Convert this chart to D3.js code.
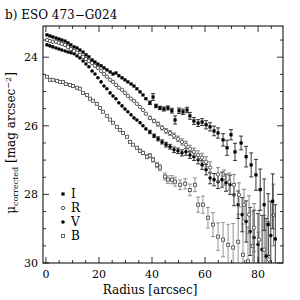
<!DOCTYPE html>
<html>
<head>
<meta charset="utf-8">
<script src="https://cdn.jsdelivr.net/npm/d3@7"></script>
<style>
body{margin:0;background:#fff;}
text{font-family:"DejaVu Serif",serif;fill:#000;}
</style>
</head>
<body>
<script>
var svgWidth = 300;
var svgHeight = 300;

// [radius arcsec, mag, error]
var bandI = [[0.4,23.35,0],[1.5,23.38,0],[2.6,23.41,0],[3.8,23.44,0],[4.9,23.47,0],[6.0,23.50,0],[7.2,23.53,0],[8.3,23.58,0],[9.4,23.64,0],[10.6,23.70,0],[11.7,23.73,0],[12.8,23.79,0],[14.0,23.85,0],[15.1,23.93,0],[16.2,23.99,0],[17.4,24.08,0],[18.5,24.14,0],[19.6,24.20,0],[20.8,24.25,0],[21.9,24.31,0],[23.0,24.37,0],[24.2,24.43,0],[25.3,24.49,0],[26.4,24.46,0],[27.5,24.54,0],[28.7,24.60,0],[29.8,24.66,0],[30.9,24.72,0],[32.1,24.78,0],[33.2,24.84,0],[34.3,24.92,0],[35.5,25.01,0],[36.6,25.10,0],[37.7,25.21,0],[39.2,25.33,0.05],[40.4,25.16,0.1],[41.5,25.42,0.05],[43.0,25.48,0.05],[44.5,25.51,0.06],[46.0,25.48,0.06],[47.5,25.56,0.07],[48.7,25.83,0.12],[50.2,25.56,0.08],[51.7,25.59,0.08],[53.2,25.54,0.08],[54.3,25.71,0.1],[55.8,25.86,0.1],[57.4,25.92,0.1],[58.9,25.89,0.1],[60.4,25.97,0.12],[61.9,26.03,0.12],[63.4,26.15,0.14],[64.9,26.21,0.15],[66.8,26.41,0.18],[68.3,26.64,0.22],[69.8,26.26,0.15],[71.3,26.76,0.25],[73.6,26.50,0.2],[75.5,26.90,0.3],[77.4,27.14,0.35],[79.2,27.43,0.45],[80.8,27.86,0.6],[82.3,28.30,0.75],[83.8,28.88,0.9],[85.5,28.20,0.8],[86.5,29.30,1.0]];

var bandR = [[0.4,23.50,0],[1.5,23.53,0],[2.6,23.55,0],[3.8,23.55,0],[4.9,23.58,0],[6.0,23.61,0],[7.2,23.64,0],[8.3,23.70,0],[9.4,23.76,0],[10.6,23.82,0],[11.7,23.87,0],[12.8,23.93,0],[14.0,23.99,0],[15.1,24.05,0],[16.2,24.11,0],[17.4,24.17,0],[18.5,24.25,0],[19.6,24.31,0],[20.8,24.40,0],[21.9,24.49,0],[23.0,24.57,0],[24.2,24.66,0],[25.3,24.72,0],[26.4,24.81,0],[27.5,24.89,0],[28.7,24.95,0],[29.8,25.04,0],[30.9,25.13,0],[32.1,25.21,0],[33.2,25.27,0],[34.3,25.36,0],[35.5,25.45,0],[36.6,25.54,0],[37.7,25.65,0],[39.2,25.77,0.05],[40.8,25.86,0.05],[42.3,25.95,0.06],[43.8,26.06,0.06],[45.3,26.15,0.07],[46.8,26.21,0.07],[48.3,26.29,0.08],[49.8,26.38,0.08],[51.3,26.47,0.09],[52.8,26.55,0.1],[54.3,26.67,0.1],[55.8,26.76,0.11],[57.4,26.85,0.12],[58.9,26.93,0.13],[60.4,27.05,0.15],[61.9,27.22,0.17],[64.9,27.42,0.2],[67.2,27.51,0.22],[69.1,27.63,0.25],[70.9,27.72,0.3],[72.8,28.01,0.35],[74.7,28.30,0.45],[76.6,28.59,0.55],[78.5,28.97,0.7],[80.4,29.32,0.85],[82.3,29.61,1.0],[84.0,29.90,1.1],[85.8,28.60,0.9]];

var bandV = [[0.4,23.64,0],[1.5,23.67,0],[2.6,23.70,0],[3.8,23.73,0],[4.9,23.76,0],[6.0,23.79,0],[7.2,23.82,0],[8.3,23.85,0],[9.4,23.87,0],[10.6,23.90,0],[11.7,23.96,0],[12.8,24.02,0],[14.0,24.11,0],[15.1,24.20,0],[16.2,24.28,0],[17.4,24.40,0],[18.5,24.49,0],[19.6,24.60,0],[20.8,24.72,0],[21.9,24.84,0],[23.0,24.92,0],[24.2,25.04,0],[25.3,25.13,0],[26.4,25.21,0],[27.5,25.33,0],[28.7,25.42,0],[29.8,25.51,0],[30.9,25.59,0],[32.1,25.68,0],[33.2,25.77,0],[34.3,25.83,0],[35.5,25.91,0],[36.6,26.00,0],[37.7,26.09,0],[39.2,26.18,0.05],[40.8,26.29,0.05],[42.3,26.38,0.06],[43.8,26.47,0.06],[45.3,26.55,0.07],[46.8,26.61,0.07],[48.3,26.70,0.08],[49.8,26.73,0.08],[51.3,26.79,0.09],[52.8,26.76,0.1],[54.3,26.85,0.1],[55.8,26.90,0.11],[57.4,26.99,0.12],[58.9,27.14,0.13],[60.4,27.28,0.15],[61.9,27.52,0.17],[63.4,27.57,0.18],[64.9,27.63,0.2],[66.4,27.57,0.22],[67.9,27.66,0.25],[69.4,27.72,0.28],[70.9,28.01,0.32],[72.5,28.30,0.4],[74.0,28.59,0.5],[75.5,28.79,0.6],[77.0,29.08,0.7],[78.5,29.26,0.8],[80.0,29.46,0.9],[81.5,29.61,1.0],[83.0,29.80,1.1],[84.8,29.20,1.0]];

var bandB = [[0.4,24.57,0],[1.5,24.66,0],[2.6,24.66,0],[4.2,24.69,0],[5.3,24.72,0],[6.4,24.72,0],[7.5,24.78,0],[9.1,24.81,0],[10.2,24.84,0],[11.7,24.89,0],[12.8,24.92,0],[14.0,25.04,0],[15.5,25.10,0],[16.6,25.21,0],[17.7,25.27,0],[19.2,25.36,0],[20.4,25.48,0],[21.5,25.59,0],[23.0,25.71,0],[24.2,25.82,0],[25.3,25.91,0],[26.8,26.03,0],[27.9,26.12,0],[29.1,26.21,0],[30.6,26.32,0],[31.7,26.47,0],[32.8,26.55,0],[34.3,26.64,0],[35.5,26.73,0.05],[36.6,26.79,0.05],[38.1,26.90,0.06],[39.2,26.87,0.06],[40.4,26.99,0.07],[41.9,27.14,0.08],[43.0,27.22,0.09],[44.9,27.48,0.1],[46.0,27.57,0.11],[47.5,27.57,0.12],[48.7,27.63,0.13],[50.6,27.72,0.14],[52.5,27.69,0.15],[54.3,27.87,0.17],[56.2,27.72,0.2],[57.4,28.30,0.22],[59.2,28.30,0.25],[61.1,28.68,0.3],[63.0,28.88,0.35],[64.9,29.23,0.4],[66.8,29.32,0.5],[68.7,29.47,0.6],[70.6,29.55,0.7],[72.5,29.38,0.8],[74.3,29.76,0.9],[76.2,29.95,1.0],[78.0,29.50,1.0],[80.1,30.20,1.1]];

var bandNames = ['I','R','V','B'];
var xTicks = [0,20,40,60,80];
var yTicks = [24,26,28,30];

var svg = d3.select('body').append('svg')
  .attr('width',svgWidth)
  .attr('height',svgHeight)

var x = d3.scaleLinear().domain([-1.1,89.4]).range([43,283]);
var y = d3.scaleLinear().domain([23.09,30]).range([26,263]);

svg.append('clipPath').attr('id','clip').append('rect')
  .attr('x',43).attr('y',26).attr('width',240).attr('height',237);

var styles = {
  I:{data:bandI, shape:'sq', fill:'#000', stroke:'none', err:'#222'},
  R:{data:bandR, shape:'circ', fill:'#fff', stroke:'#444', err:'#777'},
  V:{data:bandV, shape:'dot', fill:'#000', stroke:'none', err:'#222'},
  B:{data:bandB, shape:'osq', fill:'#fff', stroke:'#555', err:'#888'}
};

var drawMark = function(g, shape, cx, cy, st){
  if(shape==='sq'){
    g.append('rect').attr('x',cx-1.6).attr('y',cy-1.6).attr('width',3.2).attr('height',3.2).attr('fill',st.fill);
  } else if(shape==='osq'){
    g.append('rect').attr('x',cx-1.5).attr('y',cy-1.5).attr('width',3).attr('height',3)
      .attr('fill',st.fill).attr('stroke',st.stroke).attr('stroke-width',0.9);
  } else if(shape==='circ'){
    g.append('circle').attr('cx',cx).attr('cy',cy).attr('r',1.7)
      .attr('fill',st.fill).attr('stroke',st.stroke).attr('stroke-width',0.9);
  } else {
    g.append('circle').attr('cx',cx).attr('cy',cy).attr('r',1.8).attr('fill',st.fill);
  }
}

var plot = svg.append('g').attr('clip-path','url(#clip)');

// draw B first so the brighter bands sit on top
['B','V','R','I'].forEach(function(name){
  var st = styles[name];
  var g = plot.append('g');
  st.data.forEach(function(d){
    if(d[2]>0){
      var y0 = y(d[1]-d[2]), y1 = y(d[1]+d[2]), cx = x(d[0]);
      g.append('line').attr('x1',cx).attr('x2',cx).attr('y1',y0).attr('y2',y1)
        .attr('stroke',st.err).attr('stroke-width',0.9);
      g.append('line').attr('x1',cx-2).attr('x2',cx+2).attr('y1',y0).attr('y2',y0)
        .attr('stroke',st.err).attr('stroke-width',0.9);
      g.append('line').attr('x1',cx-2).attr('x2',cx+2).attr('y1',y1).attr('y2',y1)
        .attr('stroke',st.err).attr('stroke-width',0.9);
    }
  });
  st.data.forEach(function(d){
    drawMark(g, st.shape, x(d[0]), y(d[1]), st);
  });
});

// frame
svg.append('rect').attr('x',43).attr('y',26).attr('width',240).attr('height',237)
  .attr('fill','none').attr('stroke','#000').attr('stroke-width',1);

// ticks, inward on all sides
var axes = svg.append('g').attr('stroke','#000').attr('stroke-width',0.8);
d3.range(0,90,5).forEach(function(v){
  var len = (v%20===0) ? 6 : 3;
  axes.append('line').attr('x1',x(v)).attr('x2',x(v)).attr('y1',263).attr('y2',263-len);
  axes.append('line').attr('x1',x(v)).attr('x2',x(v)).attr('y1',26).attr('y2',26+len);
});
d3.range(23.5,30.01,0.5).forEach(function(v){
  var len = (Math.abs(v%2)<0.01) ? 6 : 3;
  axes.append('line').attr('x1',43).attr('x2',43+len).attr('y1',y(v)).attr('y2',y(v));
  axes.append('line').attr('x1',283).attr('x2',283-len).attr('y1',y(v)).attr('y2',y(v));
});

svg.selectAll('.xt').data(xTicks).enter().append('text')
  .attr('x',function(d){return x(d)}).attr('y',278)
  .attr('text-anchor','middle').style('font-size','11px').text(function(d){return d});
svg.selectAll('.yt').data(yTicks).enter().append('text')
  .attr('x',38).attr('y',function(d){return y(d)+4})
  .attr('text-anchor','end').style('font-size','11px').text(function(d){return d});

svg.append('text').attr('x',150).attr('y',294).attr('text-anchor','middle')
  .style('font-size','12px').text('Radius [arcsec]');

svg.append('text').attr('x',5).attr('y',19).style('font-size','12px').text('b) ESO 473\u2212G024');

var yl = svg.append('text').attr('transform','translate(15,143) rotate(-90)')
  .attr('text-anchor','middle').style('font-size','12px');
yl.append('tspan').text('\u03bc');
yl.append('tspan').attr('dy',3).style('font-size','8px').text('corrected');
yl.append('tspan').attr('dy',-3).text(' [mag arcsec');
yl.append('tspan').attr('dy',-4).style('font-size','8px').text('\u22122');
yl.append('tspan').attr('dy',4).text(']');

// legend
var leg = svg.append('g');
bandNames.forEach(function(name,i){
  var ly = 194 + i*14;
  drawMark(leg, styles[name].shape, 63, ly, styles[name]);
  leg.append('text').attr('x',71).attr('y',ly+4).style('font-size','12px').text(name);
});
</script>
</body>
</html>
